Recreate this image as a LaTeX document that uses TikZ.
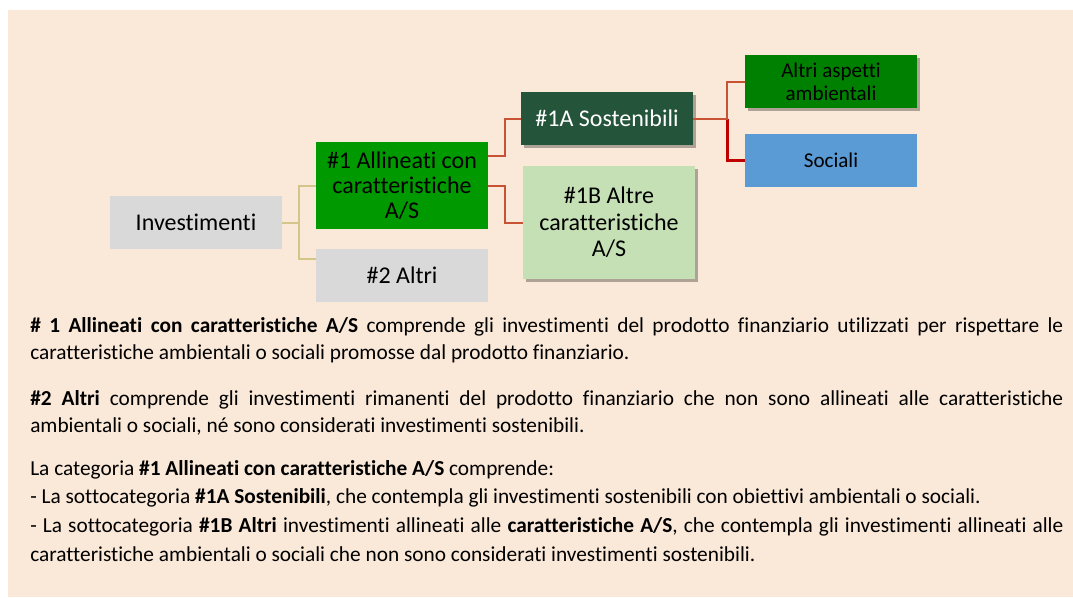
\documentclass[tikz,border=0pt]{standalone}
\usepackage{fontspec}
\setmainfont{Carlito}[Ligatures=NoCommon]
\usetikzlibrary{shadows,calc}
\definecolor{bg}{RGB}{250,232,216}
\definecolor{boxgray}{RGB}{217,217,217}
\definecolor{green1}{RGB}{0,153,0}
\definecolor{green2}{RGB}{0,128,0}
\definecolor{darkgreen}{RGB}{36,84,58}
\definecolor{lightgreen}{RGB}{197,224,180}
\definecolor{socblue}{RGB}{91,155,213}
\definecolor{tanline}{RGB}{212,198,138}
\definecolor{redline}{RGB}{200,82,52}
\definecolor{darkred}{RGB}{192,0,0}
\tikzset{
  box/.style={minimum width=129pt, minimum height=39.75pt, inner sep=1pt, align=center,
    font=\fontsize{18}{18.75}\selectfont},
  smallbox/.style={box, font=\fontsize{15.8}{17}\selectfont},
  shad/.style={drop shadow={shadow xshift=2pt, shadow yshift=-2.5pt, opacity=0.3, fill=black}},
  tanconn/.style={draw=tanline, line width=1.5pt},
  redconn/.style={draw=redline, line width=1.5pt},
  darkconn/.style={draw=darkred, line width=2.2pt},
  para/.style={anchor=base west, inner sep=0pt, text width=774.75pt, align=justify,
    font=\fontsize{16}{20.5}\selectfont}
}
\begin{document}
\begin{tikzpicture}[x=0.75pt,y=-0.75pt]
\useasboundingbox (0,0) rectangle (1073,597);
\fill[white] (0,0) rectangle (1073,597);
\fill[bg] (8,10) rectangle (1073,597);

% boxes
\node[box, fill=boxgray] (inv) at (196,222.5) {Investimenti};
\node[box, fill=green1, minimum height=65.25pt] (a1) at (402,185.5) {\#1 Allineati con\\caratteristiche\\A/S};
\node[box, fill=boxgray] (a2) at (402,275.5) {\#2 Altri};
\node[box, fill=darkgreen, text=white, shad] (s1a) at (607,118.5) {\#1A Sostenibili};
\node[box, fill=lightgreen, minimum height=84.75pt, font=\fontsize{18}{20}\selectfont, shad] (s1b) at (609,222.5) {\#1B Altre\\caratteristiche\\A/S};
\node[smallbox, fill=green2, shad] (amb) at (831,81.5) {Altri aspetti\\ambientali};
\node[smallbox, fill=socblue] (soc) at (831,160.5) {Sociali};

% connectors
\coordinate (inv1) at ($(inv.east)+(17,0)$);
\draw[tanconn] (inv.east) -- (inv1) |- (a1.west);
\draw[tanconn] (inv1) |- ($(a2.north west)+(0,10)$);
\coordinate (a1s) at ($(a1.north east)+(0,14)$);
\draw[redconn] (a1s) -- ++(17,0) |- (s1a.west);
\draw[redconn] (a1.east) -- ++(17,0) |- (s1b.west);
\coordinate (s1ax) at ($(s1a.east)+(34,0)$);
\draw[darkconn] (s1ax) |- (soc.west);
\draw[redconn] (s1a.east) -- (s1ax) |- (amb.west);

% text
\node[para] (p1) at (30,332) {{\bfseries \# 1 Allineati con caratteristiche A/S} comprende gli investimenti del prodotto finanziario utilizzati per rispettare le\linebreak caratteristiche ambientali o sociali promosse dal prodotto finanziario.};
\node[para] (p2) at (30,405) {{\bfseries \#2 Altri} comprende gli investimenti rimanenti del prodotto finanziario che non sono allineati alle caratteristiche\linebreak ambientali o sociali, né sono considerati investimenti sostenibili.};
\node[para, font=\fontsize{16}{21.5}\selectfont] (p3) at (30,475) {La categoria {\bfseries \#1 Allineati con caratteristiche A/S} comprende:\newline - La sottocategoria {\bfseries \#1A Sostenibili}, che contempla gli investimenti sostenibili con obiettivi ambientali o sociali.\newline - La sottocategoria {\bfseries \#1B Altri} investimenti allineati alle {\bfseries caratteristiche A/S}, che contempla gli investimenti allineati alle\linebreak caratteristiche ambientali o sociali che non sono considerati investimenti sostenibili.};
\end{tikzpicture}
\end{document}
